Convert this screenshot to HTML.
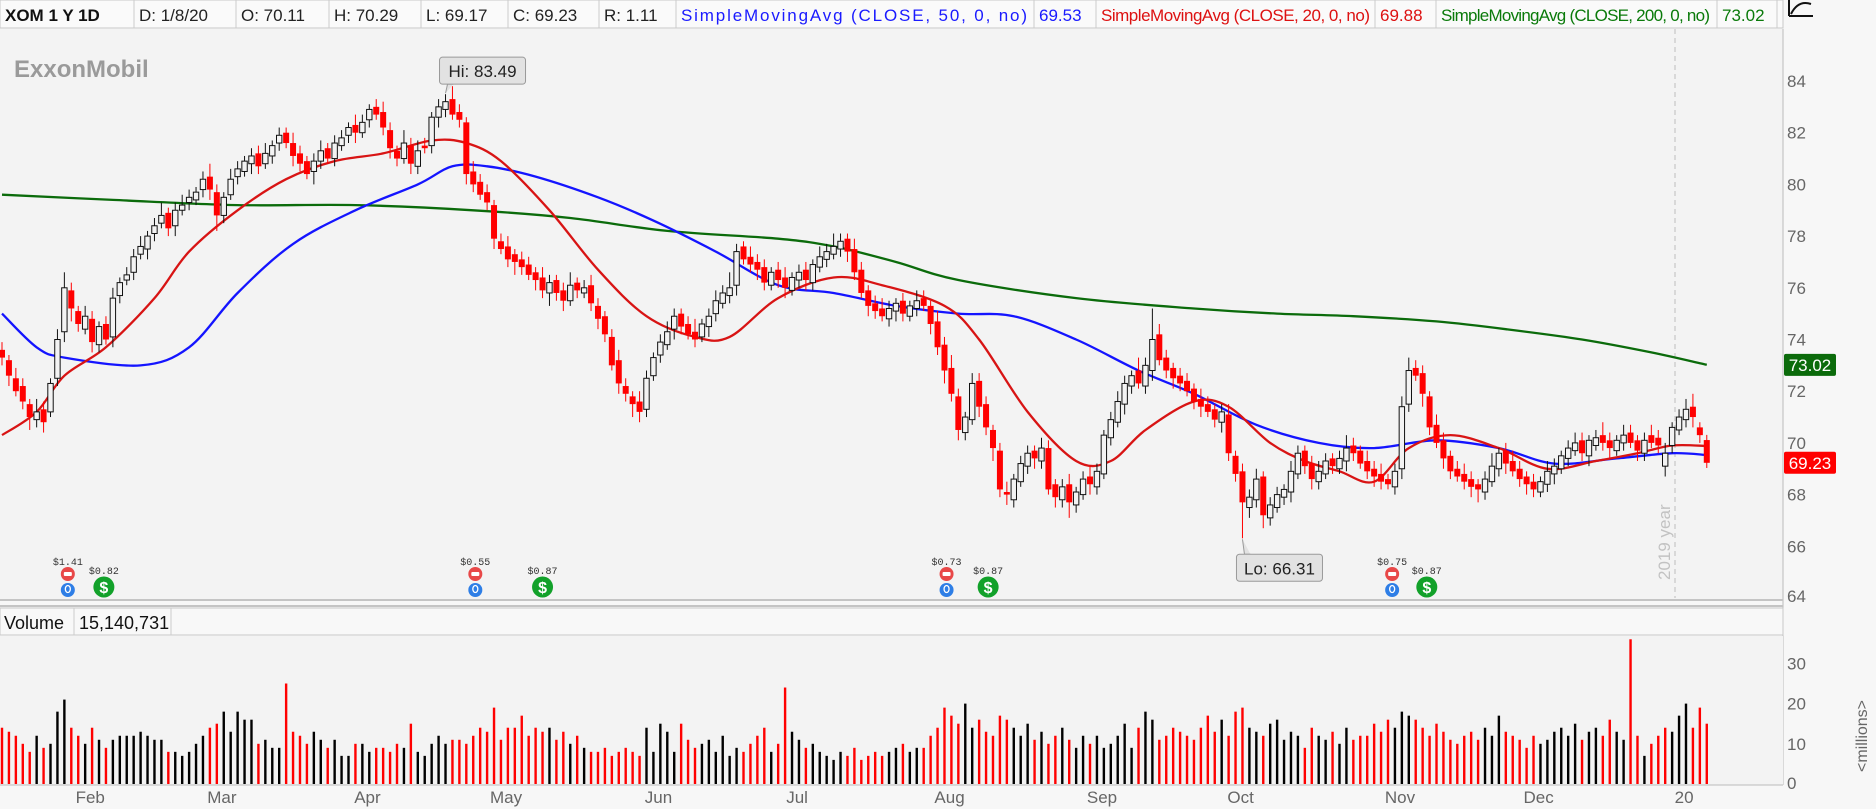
<!DOCTYPE html>
<html><head><meta charset="utf-8"><title>XOM 1 Y 1D</title>
<style>
html,body{margin:0;padding:0;background:#f7f7f7;}
body{width:1876px;height:809px;overflow:hidden;font-family:"Liberation Sans",sans-serif;}
svg{display:block;}
</style></head>
<body>
<svg id="chart" width="1876" height="809" viewBox="0 0 1876 809" xmlns="http://www.w3.org/2000/svg">
  <rect x="0" y="0" width="1876" height="809" fill="#f7f7f7"/>
  <g id="header" font-size="17">
    <rect x="0" y="0" width="1783" height="28" fill="#fafafa" stroke="#c8c8c8"/>
    <text x="5" y="21" font-weight="bold" fill="#111">XOM 1 Y 1D</text>
    <line x1="134" y1="0" x2="134" y2="28" stroke="#ccc"/>
    <text x="139" y="21" fill="#222">D: 1/8/20</text>
    <line x1="236" y1="0" x2="236" y2="28" stroke="#ccc"/>
    <text x="241" y="21" fill="#222">O: 70.11</text>
    <line x1="329" y1="0" x2="329" y2="28" stroke="#ccc"/>
    <text x="334" y="21" fill="#222">H: 70.29</text>
    <line x1="421" y1="0" x2="421" y2="28" stroke="#ccc"/>
    <text x="426" y="21" fill="#222">L: 69.17</text>
    <line x1="508" y1="0" x2="508" y2="28" stroke="#ccc"/>
    <text x="513" y="21" fill="#222">C: 69.23</text>
    <line x1="599" y1="0" x2="599" y2="28" stroke="#ccc"/>
    <text x="604" y="21" fill="#222">R: 1.11</text>
    <line x1="676" y1="0" x2="676" y2="28" stroke="#ccc"/>
    <text x="681" y="21" fill="#1a1aff" textLength="346">SimpleMovingAvg (CLOSE, 50, 0, no)</text>
    <line x1="1034" y1="0" x2="1034" y2="28" stroke="#ccc"/>
    <text x="1039" y="21" fill="#1a1aff">69.53</text>
    <line x1="1096" y1="0" x2="1096" y2="28" stroke="#ccc"/>
    <text x="1101" y="21" fill="#dd1111" textLength="269">SimpleMovingAvg (CLOSE, 20, 0, no)</text>
    <line x1="1375" y1="0" x2="1375" y2="28" stroke="#ccc"/>
    <text x="1380" y="21" fill="#dd1111">69.88</text>
    <line x1="1436" y1="0" x2="1436" y2="28" stroke="#ccc"/>
    <text x="1441" y="21" fill="#0a7a0a" textLength="269">SimpleMovingAvg (CLOSE, 200, 0, no)</text>
    <line x1="1717" y1="0" x2="1717" y2="28" stroke="#ccc"/>
    <text x="1722" y="21" fill="#0a7a0a">73.02</text>
    <line x1="1777" y1="0" x2="1777" y2="28" stroke="#ccc"/>
  </g>
  <g stroke="#111" stroke-width="2" fill="none">
    <line x1="1789" y1="16" x2="1813" y2="16"/>
    <path d="M1791 14 C1797 2 1805 2 1811 4"/>
    <line x1="1789" y1="0" x2="1789" y2="16"/>
  </g>
  <rect x="0" y="29" width="1783" height="571" fill="#f3f3f3"/>
  <line x1="1783" y1="29" x2="1783" y2="785" stroke="#bbb"/>
  <line x1="0" y1="600" x2="1783" y2="600" stroke="#c4c4c4" stroke-width="2"/>
  <line x1="0" y1="606" x2="1783" y2="606" stroke="#c4c4c4" stroke-width="2"/>
  <g font-size="18">
    <rect x="0" y="608" width="1783" height="27" fill="#f8f8f8" stroke="#c8c8c8"/>
    <text x="4" y="629" fill="#111">Volume</text>
    <line x1="74" y1="608" x2="74" y2="635" stroke="#ccc"/>
    <text x="79" y="629" fill="#111">15,140,731</text>
    <line x1="171" y1="608" x2="171" y2="635" stroke="#ccc"/>
  </g>
  <rect x="0" y="636" width="1783" height="149" fill="#f3f3f3"/>
  <line x1="0" y1="785" x2="1783" y2="785" stroke="#bbb"/>
  <text x="14" y="77" font-size="24" font-weight="bold" fill="#9a9a9a">ExxonMobil</text>
  <line x1="1675" y1="29" x2="1675" y2="598" stroke="#bdbdbd" stroke-dasharray="5,4"/>
  <text transform="translate(1670,580) rotate(-90)" font-size="17" fill="#c2c2c2">2019 year</text>
  <g id="lines"></g>
  <g id="candles"></g>
  <g id="vol"></g>
  <g id="axes"></g>
  <g id="events"></g>
  <g id="notes"></g>
</svg>
<script>
// ---- data ----
const closes = [73.3,72.6,72.0,71.6,71.0,71.2,70.8,72.3,74.0,76.0,
75.2,74.6,74.9,73.9,74.5,74.0,75.6,76.2,76.5,77.2,
77.6,78.0,78.4,78.8,78.3,79.0,79.2,79.5,79.7,80.2,
79.8,78.8,79.5,80.2,80.6,80.9,81.1,80.7,81.2,81.5,
81.9,81.6,81.1,80.8,80.4,80.9,81.3,81.0,81.6,81.8,
82.2,82.0,82.4,82.9,82.7,82.2,81.4,81.0,81.6,80.8,
81.3,81.4,82.6,83.0,83.2,82.7,82.5,80.4,80.0,79.6,
79.3,77.9,77.5,77.1,77.0,76.8,76.5,76.3,75.9,76.2,
75.8,75.5,76.1,75.9,76.0,75.4,74.8,74.2,73.0,72.3,
71.9,71.5,71.2,72.5,73.3,73.9,74.3,74.9,74.5,74.2,
74.0,74.6,74.9,75.5,75.8,76.0,77.4,77.1,76.9,76.7,
76.2,76.6,76.3,76.0,76.4,76.6,76.3,76.9,77.2,77.4,
77.6,77.8,77.4,76.6,75.8,75.3,75.1,74.9,75.2,75.4,
75.0,75.3,75.5,75.3,74.6,73.7,72.8,71.9,70.5,71.0,
72.3,71.4,70.6,69.8,68.2,68.0,68.6,69.2,69.6,69.4,
69.8,68.2,67.9,68.3,67.7,68.1,68.6,68.4,68.9,70.3,
70.9,71.6,72.3,72.6,72.3,73.0,74.0,73.2,72.8,72.5,
72.3,72.0,71.6,71.4,71.2,70.9,71.2,69.6,68.8,67.7,
67.9,68.6,67.2,67.6,68.0,68.2,68.9,69.6,69.1,68.6,
68.9,69.3,69.1,69.4,69.8,69.6,69.2,68.9,68.7,68.5,
68.4,68.9,71.4,72.8,72.6,71.9,70.6,70.0,69.4,68.9,
68.7,68.5,68.3,68.2,68.6,69.1,69.6,69.2,68.9,68.6,
68.4,68.2,68.5,68.9,69.1,69.5,69.8,70.0,69.6,70.1,
70.2,70.0,69.8,70.1,70.3,70.0,69.7,70.1,70.0,69.9,
69.6,70.6,71.0,71.3,71.0,70.3,69.23];
const opens = [73.6,73.2,72.5,72.2,71.5,70.9,71.3,71.2,72.5,74.3,
75.9,75.1,74.4,74.8,73.8,74.6,74.1,75.7,76.3,76.6,
77.3,77.5,78.1,78.5,78.9,78.4,79.0,79.3,79.4,79.8,
80.3,79.7,78.8,79.6,80.3,80.5,80.8,81.2,80.8,81.1,
81.6,82.0,81.6,81.2,80.9,80.5,80.9,81.4,81.0,81.5,
81.9,82.3,82.0,82.5,83.0,82.8,82.1,81.3,81.0,81.5,
80.7,81.5,81.5,82.6,82.9,83.3,82.8,82.4,80.5,80.1,
79.7,79.2,77.8,77.6,77.3,77.1,76.9,76.6,76.4,75.8,
76.3,75.9,75.5,76.2,75.8,76.1,75.3,74.9,74.1,73.2,
72.2,71.8,71.6,71.3,72.6,73.4,73.8,74.4,75.0,74.6,
74.3,74.1,74.5,75.0,75.4,75.7,76.1,77.6,77.2,77.0,
76.8,76.1,76.7,76.4,75.9,76.3,76.7,76.2,76.8,77.1,
77.3,77.5,77.9,77.5,76.7,75.9,75.4,75.2,74.8,75.1,
75.5,74.9,75.2,75.6,75.3,74.7,73.8,72.9,71.8,70.4,
70.9,72.4,71.5,70.5,69.7,68.1,67.8,68.5,69.1,69.7,
69.3,69.8,68.4,67.8,68.4,67.6,68.0,68.7,68.3,68.8,
70.2,70.8,71.5,72.2,72.8,72.2,72.8,74.2,73.3,72.9,
72.6,72.4,72.1,71.7,71.5,71.3,70.8,71.1,69.5,68.9,
67.5,67.8,68.7,67.1,67.5,67.9,68.1,68.8,69.7,69.2,
68.5,68.8,69.4,69.0,69.3,69.9,69.7,69.3,69.0,68.8,
68.6,68.3,69.0,71.5,72.9,72.7,71.8,70.7,70.1,69.5,
69.0,68.8,68.6,68.4,68.1,68.5,69.0,69.7,69.3,69.0,
68.7,68.5,68.1,68.4,68.8,69.0,69.4,69.7,70.1,69.5,
69.9,70.3,70.1,69.7,70.0,70.4,70.1,69.6,70.3,70.2,
69.1,69.9,70.5,70.9,71.4,70.6,70.11];
const wickUp = [0.3,0.2,0.4,0.3,0.2,0.5,0.3,0.2,0.4,0.6,0.3,0.2,0.4,0.3,0.2,0.3,0.4,0.2,0.3,0.3,
0.4,0.2,0.3,0.5,0.2,0.3,0.4,0.3,0.2,0.3,0.5,0.3,0.2,0.4,0.3,0.2,0.3,0.3,0.4,0.2,
0.3,0.2,0.4,0.3,0.2,0.3,0.4,0.2,0.3,0.3,0.2,0.4,0.3,0.2,0.3,0.4,0.3,0.2,0.5,0.3,
0.4,0.3,0.2,0.3,0.3,0.5,0.3,0.2,0.4,0.3,0.3,0.2,0.3,0.4,0.2,0.3,0.3,0.2,0.4,0.3,
0.2,0.3,0.5,0.2,0.3,0.4,0.3,0.2,0.3,0.4,0.3,0.2,0.4,0.3,0.2,0.3,0.4,0.3,0.2,0.3,
0.5,0.2,0.3,0.4,0.3,0.6,0.3,0.2,0.4,0.3,0.3,0.2,0.3,0.4,0.2,0.3,0.3,0.2,0.4,0.3,
0.5,0.3,0.2,0.4,0.3,0.2,0.3,0.4,0.3,0.2,0.3,0.2,0.4,0.3,0.2,0.4,0.3,0.5,0.3,0.2,
0.4,0.3,0.3,0.2,0.3,0.4,0.2,0.3,0.3,0.2,0.4,0.3,0.2,0.3,0.4,0.2,0.3,0.4,0.3,0.2,
0.3,0.4,0.3,0.2,0.5,0.3,1.2,0.4,0.3,0.2,0.3,0.3,0.2,0.4,0.3,0.2,0.3,0.4,0.2,0.3,
0.3,0.4,0.2,0.3,0.3,0.2,0.4,0.3,0.2,0.3,0.4,0.3,0.2,0.3,0.5,0.3,0.2,0.4,0.3,0.4,
0.2,0.3,0.4,0.5,0.3,0.3,0.2,0.4,0.3,0.2,0.3,0.4,0.3,0.2,0.3,0.5,0.2,0.3,0.4,0.3,
0.2,0.3,0.2,0.4,0.3,0.2,0.3,0.4,0.3,0.2,0.3,0.5,0.3,0.2,0.4,0.3,0.2,0.3,0.4,0.3,
0.4,0.2,0.3,0.4,0.5,0.2,0.2];
const wickDn = [0.3,0.4,0.2,0.3,0.5,0.3,0.4,0.2,0.3,0.4,0.5,0.3,0.2,0.4,0.3,0.2,0.4,0.3,0.2,0.3,
0.2,0.4,0.3,0.2,0.3,0.4,0.2,0.3,0.2,0.3,0.4,0.6,0.3,0.2,0.3,0.2,0.4,0.3,0.2,0.3,
0.3,0.2,0.4,0.3,0.2,0.5,0.3,0.2,0.3,0.2,0.3,0.4,0.2,0.3,0.2,0.3,0.4,0.3,0.2,0.4,
0.3,0.2,0.3,0.4,0.3,0.2,0.3,0.4,0.3,0.2,0.3,0.4,0.2,0.3,0.5,0.3,0.2,0.4,0.3,0.5,
0.3,0.4,0.2,0.3,0.2,0.3,0.4,0.3,0.2,0.4,0.3,0.5,0.4,0.3,0.2,0.3,0.2,0.4,0.3,0.2,
0.3,0.2,0.4,0.3,0.2,0.3,0.4,0.2,0.3,0.4,0.3,0.2,0.3,0.4,0.2,0.3,0.4,0.3,0.2,0.3,
0.2,0.3,0.4,0.3,0.2,0.4,0.3,0.2,0.3,0.4,0.3,0.2,0.3,0.2,0.4,0.3,0.5,0.3,0.4,0.3,
0.2,0.4,0.3,0.5,0.3,0.4,0.3,0.2,0.3,0.4,0.3,0.2,0.4,0.3,0.6,0.3,0.2,0.4,0.3,0.2,
0.3,0.2,0.4,0.3,0.2,0.3,0.4,0.2,0.3,0.4,0.3,0.2,0.3,0.4,0.2,0.3,0.4,0.3,0.3,0.2,
0.4,0.3,0.5,0.3,0.2,0.3,0.4,0.2,0.3,0.4,0.3,0.2,0.3,0.2,0.4,0.3,0.2,0.3,0.4,0.3,
0.2,0.3,0.4,0.3,0.2,0.5,0.3,0.2,0.4,0.3,0.2,0.3,0.4,0.5,0.3,0.2,0.3,0.4,0.2,0.3,
0.4,0.3,0.2,0.3,0.4,0.2,0.3,0.2,0.3,0.4,0.2,0.3,0.4,0.2,0.3,0.2,0.4,0.3,0.2,0.3,
0.4,0.3,0.2,0.3,0.4,0.3,0.2];
const volumes = [14,13,12,10,8,12,9,10,18,21,
14,12,10,14,11,9,11,12,12,12,
13,12,11,11,8,8,7,8,10,12,
14,15,18,13,18,16,16,10,11,9,
9,25,13,12,10,13,11,9,11,7,
7,10,10,8,9,9,8,10,9,15,
8,7,10,12,10,11,11,10,12,14,
13,19,11,14,14,17,12,14,13,14,
11,13,10,12,9,8,8,9,7,8,
9,8,7,14,8,15,13,8,15,11,
9,10,11,8,12,7,9,8,10,12,
14,8,10,24,13,11,9,10,8,7,
6,8,7,9,6,7,8,7,8,9,
10,8,9,9,12,14,19,17,15,20,
14,16,13,12,17,16,14,12,15,11,
13,10,12,14,11,9,12,10,12,9,
10,12,15,9,14,18,16,11,12,14,
13,12,11,14,17,13,16,12,18,19,
14,13,12,15,16,11,13,12,9,14,
12,11,13,10,14,11,12,12,15,13,
16,14,18,17,16,14,12,15,13,11,
10,12,13,11,14,12,17,13,12,11,
9,12,10,11,13,14,12,15,11,13,
14,12,16,13,11,36,12,7,10,12,
14,13,17,20,14,19,15];
const sma20Idx = [0,5,9,15,22,27,34,41,48,55,62,67,72,79,86,93,100,105,112,120,127,136,141,148,155,160,165,172,177,183,188,193,198,203,209,216,223,230,236,241,246];
const sma20Val = [70.3,71.2,72.6,73.7,75.6,77.4,79.0,80.2,80.9,81.2,81.7,81.6,80.9,79.0,76.7,74.9,74.1,74.1,75.6,76.4,76.1,75.3,74.0,71.2,69.3,69.3,70.5,71.6,71.4,70.0,69.3,68.9,68.5,69.8,70.3,69.8,69.0,69.3,69.6,69.9,69.88];
const sma50Idx = [0,5,9,20,27,34,42,51,60,65,70,77,86,94,103,112,120,129,138,146,155,164,172,181,190,198,207,216,224,233,241,246];
const sma50Val = [75.0,73.7,73.3,73.0,73.7,75.8,77.7,79.0,80.0,80.7,80.7,80.3,79.5,78.6,77.4,76.1,75.8,75.3,75.0,74.9,74.0,72.8,71.9,70.7,70.0,69.8,70.1,69.8,69.2,69.4,69.6,69.53];
const sma200Idx = [0,16,34,51,68,82,96,112,120,129,138,155,172,184,195,207,217,228,238,246];
const sma200Val = [79.6,79.4,79.2,79.2,79.0,78.7,78.2,77.9,77.6,77.0,76.3,75.6,75.2,75.0,74.9,74.7,74.4,74.0,73.5,73.02];
const priceTicks = [64,66,68,70,72,74,76,78,80,82,84];
const volTicks = [0,10,20,30];
const monthLabels = ["Feb","Mar","Apr","May","Jun","Jul","Aug","Sep","Oct","Nov","Dec","20"];
const monthIdx = [11,30,51,71,93,113,135,157,177,200,220,241];
const earnIdx = [9.5,68.3,136.3,200.6];
const earnAmt = ["$1.41","$0.55","$0.73","$0.75"];
const divIdx = [14.7,78,142.3,205.6];
const divAmt = ["$0.82","$0.87","$0.87","$0.87"];
const hiIdx = 64, hiVal = 83.49, loIdx = 179, loVal = 66.31;
const lastSma200 = 73.02, lastClose = 69.23;

// ---- scales ----
const NS = "http://www.w3.org/2000/svg";
const xOf = i => 2 + i * 6.93;
const yOf = p => 81 + (84 - p) * 25.85;
const yV = v => 784 - v * 4.02;
function mk(tag, attrs, parent) {
  const e = document.createElementNS(NS, tag);
  for (const k in attrs) e.setAttribute(k, attrs[k]);
  parent.appendChild(e);
  return e;
}
const gL = document.getElementById('lines');
const gC = document.getElementById('candles');
const gV = document.getElementById('vol');
const gA = document.getElementById('axes');
const gE = document.getElementById('events');
const gN = document.getElementById('notes');

// moving averages (smoothed Catmull-Rom)
function smaLine(idx, vals, color, name) {
  const pts = idx.map((i, k) => [xOf(i), yOf(vals[k])]);
  let d = 'M' + pts[0][0].toFixed(1) + ' ' + pts[0][1].toFixed(1);
  for (let k = 0; k < pts.length - 1; k++) {
    const p0 = pts[Math.max(0, k - 1)], p1 = pts[k], p2 = pts[k + 1], p3 = pts[Math.min(pts.length - 1, k + 2)];
    const c1x = p1[0] + (p2[0] - p0[0]) / 6, c1y = p1[1] + (p2[1] - p0[1]) / 6;
    const c2x = p2[0] - (p3[0] - p1[0]) / 6, c2y = p2[1] - (p3[1] - p1[1]) / 6;
    d += ` C${c1x.toFixed(1)} ${c1y.toFixed(1)} ${c2x.toFixed(1)} ${c2y.toFixed(1)} ${p2[0].toFixed(1)} ${p2[1].toFixed(1)}`;
  }
  const p = mk('path', {d: d, fill: 'none', stroke: color, 'stroke-width': 2.3, 'stroke-linejoin': 'round'}, gL);
  
  
}
smaLine(sma200Idx, sma200Val, '#0b6b0b', 'sma200-line');
smaLine(sma50Idx, sma50Val, '#1414ff', 'sma50-line');
smaLine(sma20Idx, sma20Val, '#d81414', 'sma20-line');

// candles
for (let i = 0; i < closes.length; i++) {
  const o = opens[i], c = closes[i];
  let hi = Math.max(o, c) + (wickUp[i] || 0.3);
  let lo = Math.min(o, c) - (wickDn[i] || 0.3);
  if (i === hiIdx) hi = hiVal;
  if (i === loIdx) lo = loVal;
  const up = c >= o;
  const x = xOf(i);
  const g = mk('g', {}, gC);
  
  
  const col = up ? '#111' : '#ff0000';
  mk('line', {x1: x, y1: yOf(hi), x2: x, y2: yOf(lo), stroke: col, 'stroke-width': 1}, g);
  const top = yOf(Math.max(o, c)), h = Math.max(1.5, yOf(Math.min(o, c)) - top);
  if (up) mk('rect', {x: x - 2.7, y: top, width: 5.4, height: h, fill: '#f3f3f3', stroke: '#111', 'stroke-width': 1}, g);
  else mk('rect', {x: x - 3, y: top, width: 6, height: h, fill: '#ff0000'}, g);
}

// volume
for (let i = 0; i < volumes.length; i++) {
  const prev = i ? closes[i - 1] : opens[0];
  const r = mk('rect', {x: xOf(i) - 1.2, y: yV(volumes[i]), width: 2.4, height: 784 - yV(volumes[i]), fill: closes[i] < prev ? '#ff0000' : '#000'}, gV);
  
  
}

// axes
priceTicks.forEach(p => {
  const y = yOf(p);
  if (y > 600) return;
  const t = mk('text', {x: 1787, y: Math.min(y + 6, 602), 'font-size': 17, fill: '#666'}, gA);
  t.textContent = p;
  
  
});
volTicks.forEach(v => {
  const t = mk('text', {x: 1787, y: Math.min(yV(v) + 6, 789), 'font-size': 17, fill: '#666'}, gA);
  t.textContent = v;
  
  
});
const mu = mk('text', {transform: 'translate(1867,772) rotate(-90)', 'font-size': 16, fill: '#666'}, gA);
mu.textContent = '<millions>';


monthLabels.forEach((m, k) => {
  const t = mk('text', {x: xOf(monthIdx[k]) + 12, y: 803, 'font-size': 17, fill: '#666', 'text-anchor': 'middle'}, gA);
  t.textContent = m;
  
  
});
function tag(val, bg, name) {
  const y = yOf(val);
  const g = mk('g', {}, gA);
  
  
  mk('rect', {x: 1784, y: y - 11, width: 52, height: 22, rx: 2, fill: bg}, g);
  const t = mk('text', {x: 1810, y: y + 6, 'font-size': 17, fill: '#fff', 'text-anchor': 'middle'}, g);
  t.textContent = val.toFixed(2);
}
tag(lastSma200, '#0b6b0b', 'sma200-price-tag');
tag(lastClose, '#ff0000', 'last-price-tag');

// events
earnIdx.forEach((ix, k) => {
  const x = xOf(ix);
  const g = mk('g', {}, gE);
  
  
  const t = mk('text', {x: x, y: 565, 'font-size': 10, fill: '#333', 'text-anchor': 'middle', 'font-family': 'Liberation Mono, monospace'}, g);
  t.textContent = earnAmt[k];
  mk('circle', {cx: x, cy: 574, r: 7, fill: '#e84848'}, g);
  mk('rect', {x: x - 4, y: 572, width: 8, height: 4, rx: 1, fill: '#fff'}, g);
  mk('circle', {cx: x, cy: 590, r: 7, fill: '#2e7ee6'}, g);
  mk('ellipse', {cx: x, cy: 589, rx: 2.5, ry: 3.5, fill: 'none', stroke: '#fff', 'stroke-width': 1.3}, g);
});
divIdx.forEach((ix, k) => {
  const x = xOf(ix);
  const g = mk('g', {}, gE);
  
  
  const t = mk('text', {x: x, y: 574, 'font-size': 10, fill: '#333', 'text-anchor': 'middle', 'font-family': 'Liberation Mono, monospace'}, g);
  t.textContent = divAmt[k];
  mk('circle', {cx: x, cy: 587, r: 10.5, fill: '#12a12a'}, g);
  const s = mk('text', {x: x, y: 593, 'font-size': 16, 'font-weight': 'bold', fill: '#fff', 'text-anchor': 'middle'}, g);
  s.textContent = '$';
});

// hi / lo notes
function note(ix, val, txt, above, name) {
  const x = xOf(ix), y = yOf(val);
  const g = mk('g', {}, gN);
  
  
  const bx = x - 6, by = above ? y - 37 : y + 16, w = 86, h = 27;
  mk('path', {d: above ? `M${x} ${y-1} L${x+2} ${by+h} L${x+8} ${by+h}` : `M${x} ${y+1} L${x+2} ${by} L${x+8} ${by}`, fill: '#e2e2e2', stroke: '#999'}, g);
  mk('rect', {x: bx, y: by, width: w, height: h, rx: 3, fill: '#e2e2e2', stroke: '#999'}, g);
  const t = mk('text', {x: bx + w / 2, y: by + 20, 'font-size': 17, fill: '#222', 'text-anchor': 'middle'}, g);
  t.textContent = txt;
}
note(hiIdx, hiVal, 'Hi: ' + hiVal.toFixed(2), true, 'high-annotation');
note(loIdx, loVal, 'Lo: ' + loVal.toFixed(2), false, 'low-annotation');
</script>
</body></html>
